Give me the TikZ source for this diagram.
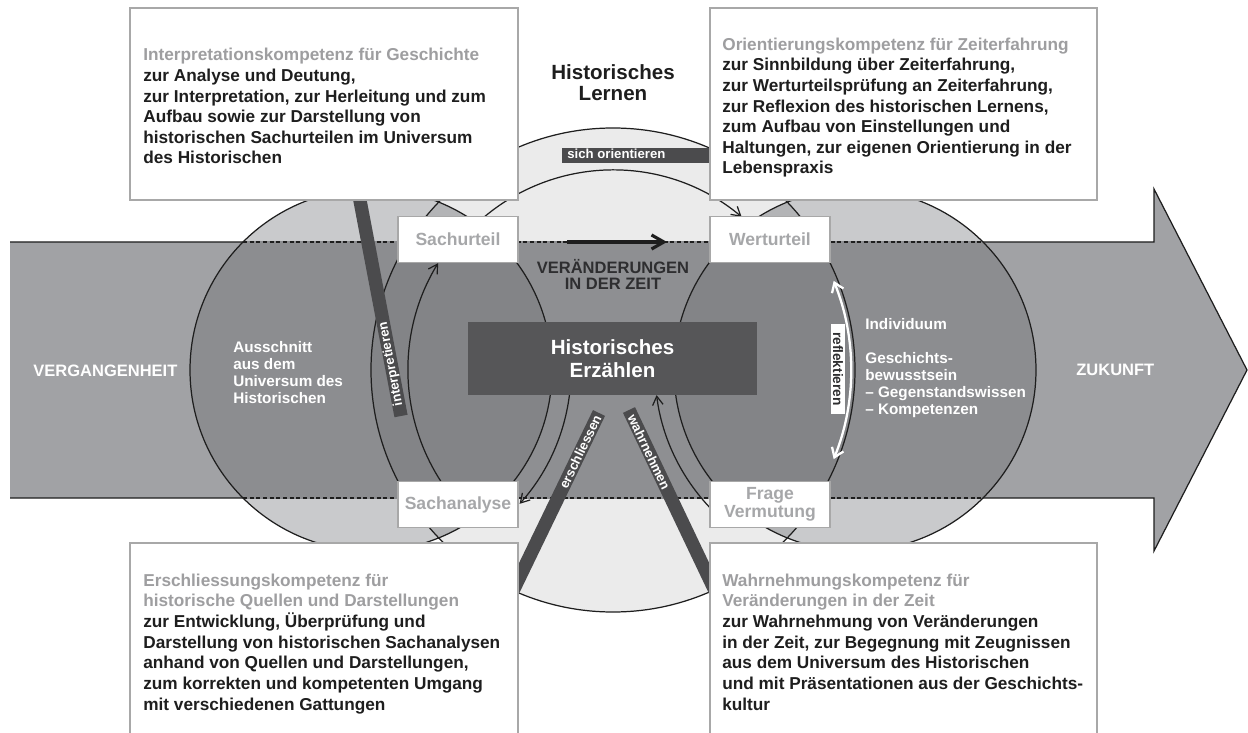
\documentclass[tikz,border=0pt]{standalone}
\usepackage{fontspec}
\setmainfont{Liberation Sans}
\usetikzlibrary{arrows.meta, positioning}
\definecolor{LernLight}{HTML}{EBEBEB}
\definecolor{KreisLight}{HTML}{C9CACC}
\definecolor{LensLight}{HTML}{B3B4B6}
\definecolor{BandGray}{HTML}{A1A2A5}
\definecolor{BandLern}{HTML}{8E8F92}
\definecolor{BandKreis}{HTML}{8C8D90}
\definecolor{BandLens}{HTML}{838487}
\definecolor{BarDark}{HTML}{4B4B4D}
\definecolor{BoxBorder}{HTML}{A8A8A8}
\definecolor{TitleGray}{HTML}{9E9EA0}
\definecolor{LabelGray}{HTML}{A6A7A9}
\definecolor{ErzDark}{HTML}{565658}
\definecolor{TextDark}{HTML}{1E1E1E}
\definecolor{CapsDark}{HTML}{2E2E30}
\tikzset{
  % Box styles
  kompbox/.style={rectangle, draw=BoxBorder, fill=white, line width=1pt, inner sep=0pt},
  labelbox/.style={rectangle, draw=BoxBorder, fill=white, line width=1pt, minimum width=2.4cm, minimum height=0.92cm, inner sep=0pt, font=\fontsize{10}{10.5}\selectfont\bfseries, text=LabelGray, align=center},
  erzbox/.style={rectangle, fill=ErzDark, minimum width=5.78cm, minimum height=1.46cm, inner sep=0pt, font=\fontsize{11.7}{13}\selectfont\bfseries, text=white, align=center},
  reflbox/.style={rectangle, fill=white, minimum width=1.82cm, minimum height=0.28cm, inner sep=0pt, font=\fontsize{7.8}{8}\selectfont\bfseries, text=CapsDark},
  % Text styles (base = baseline of the last line)
  kompText/.style={anchor=base west, inner sep=0pt, align=left, font=\fontsize{9.8}{11.75}\selectfont\bfseries, text=TextDark},
  whiteText/.style={anchor=base west, inner sep=0pt, align=left, font=\fontsize{8.7}{9.65}\selectfont\bfseries, text=white},
  capsText/.style={anchor=base, inner sep=0pt, align=center, font=\fontsize{9.4}{9.65}\selectfont\bfseries},
  bartext/.style={inner sep=0pt, font=\fontsize{7.5}{8}\selectfont\bfseries, text=white},
  % Line styles
  outline/.style={draw=TextDark, line width=0.7pt},
  bandDash/.style={draw=TextDark, line width=0.7pt, dash pattern=on 2.3pt off 1.5pt},
  bar/.style={draw=BarDark, line width=7.6pt},
  thinarrow/.style={draw=TextDark, line width=0.7pt, -{Straight Barb[length=5pt,width=6pt]}},
  whitearrow/.style={draw=white, line width=1.3pt, {Straight Barb[length=5pt,width=7pt]}-{Straight Barb[length=5pt,width=7pt]}},
  bigarrow/.style={draw=TextDark, line width=1.8pt, -{Straight Barb[length=7pt,width=8pt]}}
}
\begin{document}
\begin{tikzpicture}[x=0.02cm, y=-0.02cm]
  \useasboundingbox (0,0) rectangle (1248,733);
  \clip (0,0) rectangle (1248,733);
  \coordinate (lern) at (613,370);
  \coordinate (kreisL) at (371,370);
  \coordinate (kreisR) at (855,370);

  % Kreise ausserhalb des Zeitpfeils
  \fill[LernLight] (lern) circle[radius=242];
  \fill[KreisLight] (kreisL) circle[radius=181] (kreisR) circle[radius=181];
  \begin{scope}
    \clip (lern) circle[radius=242];
    \fill[LensLight] (kreisL) circle[radius=181] (kreisR) circle[radius=181];
  \end{scope}

  % Zeitpfeil
  \fill[BandGray] (10,242) -- (1154,242) -- (1154,189) -- (1247,370) -- (1154,551) -- (1154,498) -- (10,498) -- cycle;
  \begin{scope}
    \clip (10,242) rectangle (1154,498);
    \fill[BandLern] (lern) circle[radius=242];
    \fill[BandKreis] (kreisL) circle[radius=181] (kreisR) circle[radius=181];
    \clip (lern) circle[radius=242];
    \fill[BandLens] (kreisL) circle[radius=181] (kreisR) circle[radius=181];
  \end{scope}
  \draw[outline] (10,242) -- (243,242) (983,242) -- (1154,242) -- (1154,189) -- (1247,370) -- (1154,551) -- (1154,498) -- (983,498) (243,498) -- (10,498);
  \draw[bandDash] (243,242) -- (983,242) (243,498) -- (983,498);
  \draw[outline] (lern) circle[radius=242] (kreisL) circle[radius=181] (kreisR) circle[radius=181];

  % Lernkreislauf
  \draw[thinarrow] ([shift={(lern)}]-213:205) arc[start angle=-213, end angle=-148.6, radius=205];
  \draw[thinarrow] ([shift={(lern)}]-130:200) arc[start angle=-130, end angle=-50, radius=200];
  \draw[thinarrow] ([shift={(kreisL)}]5:200) arc[start angle=5, end angle=42, radius=200];
  \draw[thinarrow] ([shift={(kreisR)}]-224:200) arc[start angle=-224, end angle=-187.2, radius=200];
  \draw[whitearrow] ([shift={(lern)}]-22:238) arc[start angle=-22, end angle=22, radius=238];
  \coordinate (zeitA) at (567,242);
  \coordinate (zeitB) at (667,242);
  \draw[bigarrow] (zeitA) -- (zeitB);

  % Balken
  \coordinate (ib1) at (401,416);
  \coordinate (ib2) at (358,190);
  \draw[bar] (ib1) -- (ib2) node[bartext, pos=0.23, sloped, allow upside down] {interpretieren};
  \coordinate (eb1) at (510,597);
  \coordinate (eb2) at (599,413);
  \draw[bar] (eb1) -- (eb2) node[bartext, pos=0.79, sloped, allow upside down] {erschliessen};
  \coordinate (wb1) at (629,410);
  \coordinate (wb2) at (718,597);
  \draw[bar] (wb1) -- (wb2) node[bartext, pos=0.225, sloped] {wahrnehmen};
  \fill[BarDark] (562,148) rectangle (720,163);
  \node[bartext, anchor=base west] (orient) at (567,159) {sich orientieren};
  \node[reflbox, rotate=-90] (refl) at (838,369) {reflektieren};

  % Kaestchen
  \node[erzbox] (erz) at (612.5,358.5) {Historisches\\Erzählen};
  \node[labelbox] (sachurteil) at (458,239.5) {Sachurteil};
  \node[labelbox] (werturteil) at (770,239.5) {Werturteil};
  \node[labelbox] (sachanalyse) at (458,504.5) {Sachanalyse};
  \node[labelbox] (frage) at (770,504.5) {Frage\\Vermutung};

  \node[kompbox, minimum width=7.76cm, minimum height=3.84cm] (interpbox) at (324,104) {};
  \node[kompbox, minimum width=7.74cm, minimum height=3.84cm] (orientbox) at (903.5,104) {};
  \node[kompbox, minimum width=7.76cm, minimum height=4.34cm] (erschbox) at (324,651.5) {};
  \node[kompbox, minimum width=7.74cm, minimum height=4.34cm] (wahrbox) at (903.5,651.5) {};

  % Texte
  \node[kompText] (interptext) at (143,164) {\textcolor{TitleGray}{Interpretationskompetenz für Geschichte}\\zur Analyse und Deutung,\\zur Interpretation, zur Herleitung und zum\\Aufbau sowie zur Darstellung von\\historischen Sachurteilen im Universum\\des Historischen};
  \node[kompText] (orienttext) at (722,174) {\textcolor{TitleGray}{Orientierungskompetenz für Zeiterfahrung}\\zur Sinnbildung über Zeiterfahrung,\\zur Werturteilsprüfung an Zeiterfahrung,\\zur Reflexion des historischen Lernens,\\zum Aufbau von Einstellungen und\\Haltungen, zur eigenen Orientierung in der\\Lebenspraxis};
  \node[kompText] (erschtext) at (143,710) {\textcolor{TitleGray}{Erschliessungskompetenz für}\\\textcolor{TitleGray}{historische Quellen und Darstellungen}\\zur Entwicklung, Überprüfung und\\Darstellung von historischen Sachanalysen\\anhand von Quellen und Darstellungen,\\zum korrekten und kompetenten Umgang\\mit verschiedenen Gattungen};
  \node[kompText] (wahrtext) at (722,710) {\textcolor{TitleGray}{Wahrnehmungskompetenz für}\\\textcolor{TitleGray}{Veränderungen in der Zeit}\\zur Wahrnehmung von Veränderungen\\in der Zeit, zur Begegnung mit Zeugnissen\\aus dem Universum des Historischen\\und mit Präsentationen aus der Geschichts-\\kultur};

  \node[capsText, font=\fontsize{11.7}{12.5}\selectfont\bfseries, text=TextDark] (lernen) at (613,101) {Historisches\\Lernen};
  \node[capsText, text=CapsDark] (veraend) at (613,290) {VERÄNDERUNGEN\\IN DER ZEIT};
  \node[capsText, anchor=base west, text=white] (vergangen) at (33,377) {VERGANGENHEIT};
  \node[capsText, anchor=base west, text=white] (zukunft) at (1076,376) {ZUKUNFT};
  \node[whiteText] (ausschnitt) at (233,403) {Ausschnitt\\aus dem\\Universum des\\Historischen};
  \node[whiteText] (individuum) at (865,414) {Individuum\\[9.65pt]Geschichts-\\bewusstsein\\– Gegenstandswissen\\– Kompetenzen};
\end{tikzpicture}
\end{document}
